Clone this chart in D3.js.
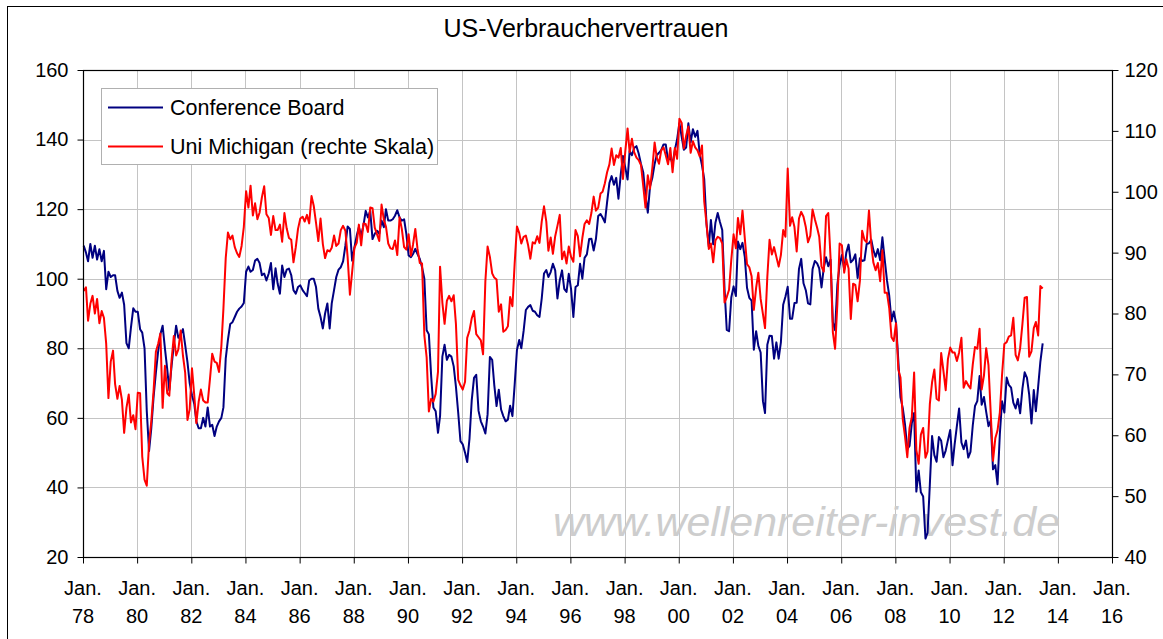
<!DOCTYPE html>
<html>
<head>
<meta charset="utf-8">
<script src="https://cdn.jsdelivr.net/npm/d3@7"></script>
<style>
  html, body { margin: 0; padding: 0; background: #fff; }
  svg { display: block; font-family: "Liberation Sans", Arial, sans-serif; }
</style>
</head>
<body>
<svg id="chart" width="1163" height="639"></svg>
<script>
// ---------------- DATA ----------------
const chartTitle = "US-Verbrauchervertrauen";
const seriesNames = ["Conference Board", "Uni Michigan (rechte Skala)"];
const startYear = 1978; // first value = Jan 1978, monthly

// Conference Board (left scale), monthly Jan 1978 - Jun 2013
const conferenceBoard = [
  109.5,107.5,105,110,106,109.5,105.5,108.5,105,108,97,102,          // 1978
  100.5,101,101,96.5,94.5,96,92.5,81.5,80,86,91.5,90.5,              // 1979
  90.5,85.5,84.5,80,62,50.5,57,66,73,79,84,86.5,                     // 1980
  80,74,68,75,81,86.5,83,84,85.5,81,76,70,                           // 1981
  66.5,64,59,57,57,60,57.5,63,57.5,58,54.8,57.5,                     // 1982
  59,60,63,77,82.5,87,87.5,89,90.5,91.4,92,93,                       // 1983
  102,103.5,102,102.5,105.2,105.7,104.5,101,101.5,99.5,101.5,104.5,  // 1984
  97,103,98.6,95.7,103.8,100.5,102.6,102.9,101,96.7,95.7,97.6,       // 1985
  98.1,96.7,95.9,95,99.5,100,100,97.6,91.4,89,85.7,90,               // 1986
  92.9,85.7,92.9,96.7,100.5,102.6,103.3,105,109.5,115,114.3,105.2,   // 1987
  109,112.4,114.8,112.4,115.2,119.5,117.6,119.5,111.4,112.9,113.8,112.9, // 1988
  116.7,114.8,120,116.7,116.7,117.1,118.1,119.7,117.6,116.7,117.1,112.9, // 1989
  106.7,106.2,107.1,108.6,107.1,105.7,103.3,100,85.2,84,72,63,       // 1990
  61.9,55.7,60.5,77.6,81,76.7,78.1,77.6,74.8,69,61.4,53.3,           // 1991
  52.4,50,47.3,54,65,71.5,72.4,62,59,57.5,55.5,61,                   // 1992
  77.5,76.7,69.5,63.4,68.1,62.4,60.5,59,59.5,63.5,60.5,69.5,         // 1993
  79.5,82.4,80,85,91,91.9,92.4,90.8,90.5,89.5,89,94.3,               // 1994
  101.5,102.5,100.5,101.9,104.3,102.4,94.3,99.5,102.4,97.1,96.2,101.4, // 1995
  97,89,97.6,98.1,104.3,100,106,107,111.4,111.5,108.1,111.4,         // 1996
  118,118.6,117.6,116.2,122,127.5,129.5,127,129,123,130,135.3,       // 1997
  132,128.5,136.7,135.5,137.6,138.1,136,133,130.5,124,119,126.5,     // 1998
  129,133,135.5,136.2,137,138.6,138.6,134,135,132.9,137,140,         // 1999
  144.7,140.8,137.1,137.7,144.7,139.2,143.0,140.8,142.5,135.8,132.6,128.6, // 2000
  115.7,109.2,116.9,109.9,116.1,118.9,116.3,114.0,97.0,85.3,84.9,94.6,   // 2001
  97.8,95.0,110.7,108.5,110.3,106.3,97.4,94.5,93.7,79.6,84.9,80.7,   // 2002
  78.8,64.8,61.4,81.0,83.6,83.5,77.0,81.7,77.0,81.7,92.5,94.8,       // 2003
  97.7,88.5,88.5,93.0,93.1,102.8,105.7,98.7,96.7,92.9,92.6,102.7,    // 2004
  105.1,104.4,103.0,97.5,103.1,106.2,103.6,105.5,87.5,85.2,98.3,103.8, // 2005
  106.8,102.7,107.5,109.8,104.7,105.4,107.0,100.2,105.9,105.1,105.3,110.0, // 2006
  110.2,111.2,108.2,106.3,108.5,105.3,111.9,105.6,99.5,95.2,87.8,90.6, // 2007
  87.3,76.4,65.9,62.8,58.1,51.0,51.9,58.5,61.4,38.8,44.9,38.6,       // 2008
  37.4,25.3,26.9,40.8,54.8,49.3,47.4,54.5,53.4,48.7,50.6,53.6,       // 2009
  56.5,46.4,52.3,57.7,62.7,52.9,51.0,53.5,48.6,50.2,57.8,63.4,       // 2010
  64.8,72.0,63.8,66.0,61.7,57.6,59.2,45.2,46.4,40.9,55.2,64.8,       // 2011
  61.5,71.6,69.5,68.7,64.4,62.7,65.4,61.3,68.4,73.1,71.5,66.7,       // 2012
  58.4,68.0,61.9,69.0,76.2,81.4                                      // 2013
];

// University of Michigan sentiment (right scale), monthly Jan 1978 - Jun 2013
const michigan = [
  83.7,84.3,78.8,81.6,82.9,80.0,82.4,78.4,80.4,79.3,75.0,66.1,       // 1978
  72.1,73.9,68.4,66.0,68.1,65.8,60.4,64.5,66.7,62.1,63.3,61.0,       // 1979
  67.0,66.9,56.5,52.7,51.7,58.7,62.3,67.3,73.7,75.0,76.7,64.5,       // 1980
  71.4,66.9,66.5,72.4,76.3,73.1,74.1,77.2,73.1,70.3,62.5,64.3,       // 1981
  71.0,66.5,62.0,65.5,67.5,65.7,65.4,65.4,69.3,73.4,72.1,71.9,       // 1982
  70.4,74.6,80.8,89.1,93.3,92.2,92.8,90.9,89.9,89.3,91.1,94.2,       // 1983
  100.1,97.4,101.0,96.1,98.1,95.5,96.6,99.1,100.9,96.3,95.7,92.9,    // 1984
  96.0,93.7,93.7,94.6,91.8,96.5,94.0,92.4,92.1,88.4,90.9,93.9,       // 1985
  95.6,95.9,95.1,96.2,94.8,99.3,97.7,94.9,91.9,95.6,91.4,89.1,       // 1986
  90.4,90.2,90.8,92.8,91.1,91.5,93.7,94.4,93.6,89.3,83.1,86.8,       // 1987
  90.8,91.6,94.6,91.2,94.8,94.7,93.4,97.4,97.3,94.1,93.0,91.9,       // 1988
  97.9,95.4,94.3,91.5,90.7,90.6,92.0,89.6,95.8,93.9,90.9,90.5,       // 1989
  93.0,89.5,91.3,93.9,90.6,88.3,88.2,76.4,72.8,63.9,66.0,65.5,       // 1990
  66.8,70.4,87.7,81.8,78.3,82.1,82.9,82.0,83.0,78.3,69.1,68.2,       // 1991
  67.5,68.8,76.0,77.2,79.2,80.4,76.6,76.1,75.6,73.3,85.3,91.0,       // 1992
  89.3,86.6,85.9,85.6,80.3,81.5,77.0,77.3,77.9,82.7,81.2,88.2,       // 1993
  94.3,93.2,91.5,92.6,92.8,91.2,89.0,91.7,91.5,92.7,91.6,95.1,       // 1994
  97.6,95.1,90.3,92.5,89.8,92.7,94.4,96.2,88.9,90.2,88.2,91.0,       // 1995
  89.3,88.5,93.7,92.7,89.4,92.4,94.7,95.3,94.7,96.5,99.2,96.9,       // 1996
  97.4,99.7,100.0,101.4,103.2,104.5,107.1,104.4,106.0,105.6,107.2,102.1, // 1997
  106.6,110.4,106.5,108.7,106.5,105.6,105.2,104.4,100.9,97.4,102.7,100.5, // 1998
  103.9,108.1,105.7,104.6,106.8,107.3,106.0,104.5,107.2,103.2,107.2,105.4, // 1999
  112.0,111.3,107.1,109.2,110.7,106.4,108.3,107.3,106.8,105.8,107.6,98.4,  // 2000
  94.7,90.6,91.5,88.4,92.0,92.6,92.4,91.5,81.8,82.7,83.9,88.8,       // 2001
  93.0,90.7,95.7,93.0,96.9,92.4,88.1,87.6,86.1,80.6,84.2,86.7,       // 2002
  82.4,79.9,77.6,86.0,92.1,89.7,90.9,89.3,87.7,89.6,93.7,92.6,       // 2003
  103.8,94.4,95.8,94.2,90.2,95.6,96.7,95.9,94.2,91.7,92.8,97.1,      // 2004
  95.5,94.1,92.6,87.7,86.9,96.0,96.5,89.1,76.9,74.2,81.6,91.5,       // 2005
  91.2,86.7,88.9,87.4,79.1,84.9,84.7,82.0,85.4,93.6,92.1,91.7,       // 2006
  96.9,91.3,88.4,87.1,88.3,85.3,90.4,83.4,83.4,80.9,76.1,75.5,       // 2007
  78.4,70.8,69.5,62.6,59.8,56.4,61.2,63.0,70.3,57.6,55.3,60.1,       // 2008
  61.2,56.3,57.3,65.1,68.7,70.8,66.0,65.7,73.5,70.6,67.4,72.5,       // 2009
  74.4,73.6,73.6,72.2,73.6,76.0,67.8,68.9,68.2,67.7,71.6,74.5,       // 2010
  74.2,77.5,67.5,69.8,74.3,71.5,63.7,55.8,59.5,60.8,63.7,69.9,       // 2011
  75.0,75.3,76.2,76.4,79.3,73.2,72.3,74.3,78.3,82.6,82.7,72.9,       // 2012
  73.8,77.6,78.6,76.4,84.5,84.1                                      // 2013
];

const leftTicks = [20, 40, 60, 80, 100, 120, 140, 160];
const rightTicks = [40, 50, 60, 70, 80, 90, 100, 110, 120];
const xTickYears = [1978,1980,1982,1984,1986,1988,1990,1992,1994,1996,1998,2000,2002,2004,2006,2008,2010,2012,2014,2016];
const xTickLabels = ["78","80","82","84","86","88","90","92","94","96","98","00","02","04","06","08","10","12","14","16"];
const watermark = "www.wellenreiter-invest.de";

// ---------------- LAYOUT ----------------
const plot = { left: 83, right: 1112, top: 70, bottom: 557 };
const svg = d3.select("#chart");

const x = d3.scaleTime()
  .domain([new Date(1978, 0, 1), new Date(2016, 0, 1)])
  .range([plot.left, plot.right]);
const yL = d3.scaleLinear().domain([20, 160]).range([plot.bottom, plot.top]);
const yR = d3.scaleLinear().domain([40, 120]).range([plot.bottom, plot.top]);

const toPoints = arr => arr.map((v, i) => ({ date: new Date(startYear, i, 10), v }));
const cbData = toPoints(conferenceBoard);
const umData = toPoints(michigan);

// background + outer frame
svg.append("rect").attr("x", 0).attr("y", 0).attr("width", 1163).attr("height", 639).attr("fill", "#fff");
svg.append("rect").attr("x", 7.5).attr("y", 6.5).attr("width", 1170).attr("height", 660)
  .attr("fill", "none").attr("stroke", "#000").attr("stroke-width", 1);

// title
svg.append("text").attr("x", 586).attr("y", 37).attr("text-anchor", "middle")
  .attr("font-size", 25).attr("fill", "#000").text(chartTitle);

// gridlines
const grid = svg.append("g");
grid.selectAll("line.h").data(leftTicks.filter(t => t > 20 && t < 160)).join("line")
  .attr("x1", plot.left).attr("x2", plot.right)
  .attr("y1", d => Math.round(yL(d)) + 0.5).attr("y2", d => Math.round(yL(d)) + 0.5)
  .attr("stroke", "#c4c4c4").attr("stroke-width", 1);
grid.selectAll("line.v").data(xTickYears.filter(yr => yr > 1978 && yr < 2016)).join("line")
  .attr("x1", d => Math.round(x(new Date(d, 0, 1))) + 0.5).attr("x2", d => Math.round(x(new Date(d, 0, 1))) + 0.5)
  .attr("y1", plot.top).attr("y2", plot.bottom)
  .attr("stroke", "#c4c4c4").attr("stroke-width", 1);

// watermark
svg.append("text").attr("x", 553).attr("y", 536)
  .attr("font-size", 40).attr("font-style", "italic")
  .attr("fill", "#cdcdcd").attr("textLength", 507).attr("lengthAdjust", "spacingAndGlyphs")
  .text(watermark);

// axes
const fontSize = 20;
const axL = svg.append("g").attr("transform", `translate(${plot.left + 0.5},0)`)
  .call(d3.axisLeft(yL).tickValues(leftTicks).tickSize(6).tickPadding(9).tickFormat(d3.format("d")));
const axR = svg.append("g").attr("transform", `translate(${plot.right + 0.5},0)`)
  .call(d3.axisRight(yR).tickValues(rightTicks).tickSize(6).tickPadding(6).tickFormat(d3.format("d")));
const axB = svg.append("g").attr("transform", `translate(0,${plot.bottom + 0.5})`)
  .call(d3.axisBottom(x).tickValues(xTickYears.map(yr => new Date(yr, 0, 1))).tickSize(6).tickFormat(""));
[axL, axR, axB].forEach(g => {
  g.select(".domain").remove();
  g.selectAll("line").attr("stroke", "#000");
  g.selectAll("text").attr("font-size", fontSize).attr("fill", "#000")
    .attr("font-family", "'Liberation Sans', Arial, sans-serif");
});

// x tick labels (two lines)
const xl = svg.append("g");
xTickYears.forEach((yr, i) => {
  const px = x(new Date(yr, 0, 1));
  xl.append("text").attr("x", px).attr("y", 595).attr("text-anchor", "middle")
    .attr("font-size", fontSize).text("Jan.");
  xl.append("text").attr("x", px).attr("y", 623).attr("text-anchor", "middle")
    .attr("font-size", fontSize).text(xTickLabels[i]);
});

// series lines
const lineL = d3.line().x(d => x(d.date)).y(d => yL(d.v));
const lineR = d3.line().x(d => x(d.date)).y(d => yR(d.v));
svg.append("path").datum(cbData).attr("d", lineL)
  .attr("fill", "none").attr("stroke", "#000080").attr("stroke-width", 2).attr("stroke-linejoin", "round");
svg.append("path").datum(umData).attr("d", lineR)
  .attr("fill", "none").attr("stroke", "#ff0000").attr("stroke-width", 2).attr("stroke-linejoin", "round");

// plot border
svg.append("rect").attr("x", plot.left + 0.5).attr("y", plot.top + 0.5)
  .attr("width", plot.right - plot.left).attr("height", plot.bottom - plot.top)
  .attr("fill", "none").attr("stroke", "#000").attr("stroke-width", 1.2);

// legend
const lg = svg.append("g");
lg.append("rect").attr("x", 101.5).attr("y", 88.5).attr("width", 336).attr("height", 76)
  .attr("fill", "#fff").attr("stroke", "#b0b0b0").attr("stroke-width", 1);
const legColors = ["#000080", "#ff0000"];
const legY = [107.5, 146.5];
seriesNames.forEach((name, i) => {
  lg.append("line").attr("x1", 108).attr("x2", 163).attr("y1", legY[i]).attr("y2", legY[i])
    .attr("stroke", legColors[i]).attr("stroke-width", 2);
  lg.append("text").attr("x", 170).attr("y", legY[i] + 7.5).attr("font-size", 21.5)
    .attr("fill", "#000").text(name);
});
</script>
</body>
</html>
